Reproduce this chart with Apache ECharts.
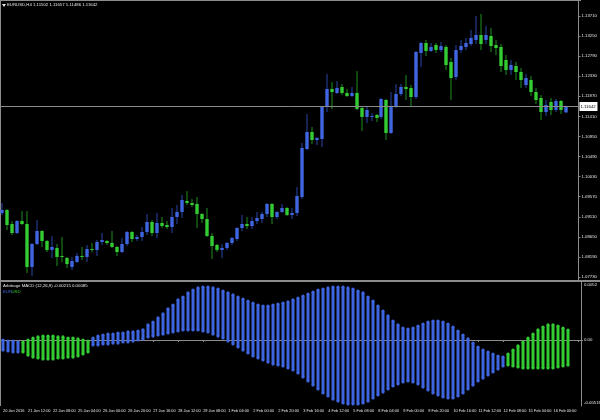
<!DOCTYPE html>
<html><head><meta charset="utf-8">
<script src="https://cdn.jsdelivr.net/npm/echarts@6/dist/echarts.min.js"></script>
<style>html,body{margin:0;padding:0;background:#000;}#c{width:600px;height:420px;}</style>
</head><body><div id="c"></div>
<script>
const tickLabels = ['20 Jan 2016','21 Jan 12:00','22 Jan 08:00','25 Jan 04:00','26 Jan 00:00','26 Jan 20:00','27 Jan 16:00','28 Jan 12:00','29 Jan 08:00','1 Feb 04:00','2 Feb 00:00','2 Feb 20:00','3 Feb 16:00','4 Feb 12:00','5 Feb 08:00','8 Feb 04:00','9 Feb 00:00','9 Feb 20:00','10 Feb 16:00','11 Feb 12:00','12 Feb 08:00','15 Feb 04:00','16 Feb 00:00'];
const priceTicks = [1.13710,1.13250,1.12790,1.12330,1.11870,1.11410,1.10950,1.10490,1.10030,1.09570,1.09110,1.08650,1.08190,1.07730];
const macdLevels = [0];
const macdRange = ['0.0052', '-0.00518'];

const open = [1.09197,1.09266,1.08944,1.08738,1.09013,1.08944,1.07960,1.08486,1.08784,1.08555,
1.08349,1.08395,1.08212,1.08166,1.07960,1.08074,1.08212,1.08189,1.08372,1.08349,
1.08532,1.08555,1.08509,1.08418,1.08303,1.08486,1.08761,1.08601,1.08647,1.08761,
1.08990,1.08738,1.08967,1.08921,1.08876,1.09105,1.09220,1.09472,1.09426,1.09403,
1.09174,1.09059,1.08670,1.08463,1.08349,1.08395,1.08509,1.08601,1.08853,1.08944,
1.08898,1.09013,1.09059,1.09174,1.09403,1.09105,1.09220,1.09311,1.09151,1.09197,
1.09563,1.10663,1.11053,1.10869,1.10892,1.11626,1.12038,1.11946,1.12084,1.11946,
1.11877,1.11946,1.11603,1.11397,1.11397,1.11443,1.11397,1.11786,1.11030,1.11649,
1.11923,1.12084,1.12061,1.11854,1.12862,1.13092,1.12908,1.13046,1.12931,1.13000,
1.12656,1.12313,1.12931,1.13000,1.13069,1.13161,1.13275,1.13161,1.13252,1.13046,
1.13000,1.12702,1.12473,1.12565,1.12427,1.12129,1.12244,1.11969,1.11831,1.11511,
1.11740,1.11557,1.11763,1.11502];
const close = [1.09266,1.08921,1.08738,1.09013,1.08944,1.07960,1.08486,1.08784,1.08555,1.08349,
1.08418,1.08189,1.08189,1.08028,1.08097,1.08212,1.08189,1.08372,1.08349,1.08532,
1.08578,1.08509,1.08418,1.08303,1.08486,1.08761,1.08601,1.08647,1.08761,1.08990,
1.08738,1.08967,1.08898,1.08876,1.09105,1.09220,1.09495,1.09426,1.09380,1.09174,
1.09059,1.08670,1.08441,1.08349,1.08395,1.08509,1.08624,1.08853,1.08944,1.08898,
1.09013,1.09082,1.09174,1.09403,1.09105,1.09220,1.09311,1.09151,1.09197,1.09586,
1.10686,1.11053,1.10869,1.10915,1.11626,1.12038,1.11969,1.12061,1.11946,1.11877,
1.11946,1.11580,1.11397,1.11557,1.11420,1.11374,1.11809,1.11030,1.11649,1.11923,
1.12084,1.12038,1.11854,1.12885,1.13092,1.12908,1.13000,1.12931,1.13023,1.12588,
1.12290,1.12931,1.13023,1.13092,1.13206,1.13275,1.13069,1.13275,1.13023,1.12977,
1.12565,1.12473,1.12588,1.12427,1.12244,1.12290,1.11969,1.11786,1.11511,1.11671,
1.11557,1.11763,1.11557,1.11642];
const low = [1.09151,1.08807,1.08692,1.08715,1.08921,1.07822,1.07753,1.08463,1.08418,1.08303,
1.08166,1.07983,1.08074,1.07937,1.07891,1.08051,1.08120,1.08074,1.08303,1.08212,
1.08463,1.08463,1.08395,1.08212,1.08280,1.08441,1.08532,1.08555,1.08555,1.08692,
1.08670,1.08624,1.08853,1.08830,1.08738,1.08944,1.09082,1.09380,1.09334,1.08853,
1.08967,1.08647,1.08143,1.08303,1.08166,1.08349,1.08463,1.08555,1.08784,1.08830,
1.08830,1.08944,1.08967,1.09105,1.08944,1.09059,1.09197,1.09128,1.09059,1.09128,
1.09518,1.10640,1.10778,1.10755,1.10709,1.11511,1.11580,1.11923,1.11900,1.11854,
1.11854,1.11557,1.11076,1.11259,1.11305,1.11282,1.11351,1.10869,1.11007,1.11603,
1.11877,1.11786,1.11626,1.11809,1.12542,1.12794,1.12885,1.12862,1.12885,1.12473,
1.11786,1.12244,1.12862,1.12931,1.13023,1.13069,1.12931,1.13069,1.12885,1.12817,
1.12427,1.12359,1.12359,1.12244,1.12061,1.12061,1.11877,1.11694,1.11328,1.11420,
1.11443,1.11511,1.11466,1.11486];
const high = [1.09426,1.09290,1.09013,1.09036,1.09243,1.09243,1.08510,1.09036,1.08807,1.08578,
1.08670,1.08486,1.08647,1.08189,1.08189,1.08280,1.08418,1.08463,1.08509,1.08578,
1.08738,1.08578,1.08784,1.08441,1.08624,1.08784,1.08784,1.08692,1.08876,1.09174,
1.09036,1.09197,1.09105,1.09013,1.09311,1.09380,1.09609,1.09701,1.09518,1.09563,
1.09197,1.09311,1.08738,1.08486,1.08486,1.08532,1.08647,1.08876,1.09151,1.09105,
1.09105,1.09220,1.09220,1.09426,1.09426,1.09243,1.09403,1.09334,1.09311,1.09793,
1.10801,1.11466,1.11167,1.10938,1.11649,1.12382,1.12198,1.12221,1.12152,1.12038,
1.12084,1.12450,1.11626,1.11626,1.11488,1.11466,1.11831,1.11809,1.11969,1.12152,
1.12152,1.12359,1.12129,1.12908,1.13115,1.13161,1.13092,1.13092,1.13115,1.13046,
1.12748,1.13046,1.13161,1.13206,1.13390,1.13710,1.13756,1.13481,1.13435,1.13161,
1.13069,1.12817,1.12702,1.12656,1.12519,1.12382,1.12336,1.12061,1.11900,1.11786,
1.11831,1.11809,1.11786,1.11657];

const eur = [0.00000,-0.00009,-0.00009,-0.00017,
-0.00103,-0.00129,-0.00146,-0.00154,-0.00163,-0.00163,-0.00163,-0.00154,-0.00154,-0.00146,-0.00146,-0.00137,-0.00120,-0.00103,
0.00017,0.00034,0.00043,0.00051,0.00051,0.00060,0.00060,0.00069,0.00069,0.00077,0.00086,
0.00129,0.00154,0.00189,0.00223,0.00266,0.00300,0.00343,0.00368,0.00403,0.00428,0.00446,0.00454,
0.00454,0.00446,0.00437,0.00420,0.00403,0.00386,0.00368,0.00351,0.00334,0.00317,
0.00300,0.00291,0.00291,0.00300,0.00308,0.00317,0.00326,0.00343,0.00360,0.00377,
0.00394,0.00411,0.00428,0.00437,0.00446,0.00454,0.00454,0.00454,0.00446,0.00437,
0.00420,0.00403,0.00368,0.00334,0.00291,0.00248,0.00206,0.00163,0.00129,0.00103,
0.00094,0.00103,0.00120,0.00137,0.00154,0.00163,0.00163,0.00154,
0.00137,0.00111,0.00077,0.00043,0.00009,-0.00026,-0.00060,-0.00086,-0.00103,-0.00120,-0.00137,-0.00146,
-0.00214,-0.00223,-0.00231,-0.00240,-0.00240,-0.00240,-0.00240,-0.00240,-0.00240,-0.00240,-0.00231,-0.00223,-0.00215];
const usd = [-0.00086,-0.00094,-0.00103,-0.00103,
-0.00017,0.00000,0.00017,0.00026,0.00034,0.00034,0.00034,0.00026,0.00026,0.00017,0.00017,0.00009,0.00000,-0.00009,
-0.00043,-0.00043,-0.00034,-0.00034,-0.00026,-0.00026,-0.00017,-0.00017,-0.00009,0.00000,0.00009,
0.00026,0.00034,0.00043,0.00051,0.00060,0.00069,0.00077,0.00086,0.00086,0.00086,0.00086,0.00077,
0.00069,0.00051,0.00034,0.00017,-0.00009,-0.00034,-0.00060,-0.00086,-0.00111,-0.00137,
-0.00154,-0.00171,-0.00189,-0.00206,-0.00214,-0.00223,-0.00240,-0.00257,-0.00283,-0.00317,
-0.00351,-0.00386,-0.00420,-0.00454,-0.00480,-0.00506,-0.00523,-0.00540,-0.00548,-0.00548,
-0.00548,-0.00540,-0.00523,-0.00497,-0.00471,-0.00446,-0.00420,-0.00394,-0.00377,-0.00360,
-0.00351,-0.00360,-0.00377,-0.00403,-0.00428,-0.00454,-0.00471,-0.00488,
-0.00497,-0.00497,-0.00480,-0.00454,-0.00420,-0.00386,-0.00351,-0.00326,-0.00300,-0.00274,-0.00249,-0.00223,
-0.00120,-0.00086,-0.00051,-0.00017,0.00017,0.00051,0.00086,0.00111,0.00129,0.00129,0.00120,0.00103,0.00085];

const NSLOTS = 116;
const cats = Array.from({length: NSLOTS}, (_, i) => i);
const FONT = 'Liberation Sans';
const FS = 4.3;
const FSX = 3.9;
const TXT = '#e6e6e6';
const AXC = '#8c8c8c';
const BLUE = '#3f66e0', GREEN = '#33cc33';
const WICK_UP = '#2846a8', WICK_DN = '#1f8f1f';

const candleData = open.map((o, i) => [i, o, close[i], low[i], high[i]]);
const macdData = eur.map((e, i) => [i, e, usd[i]]);
const last = close[close.length - 1];

const chart = echarts.init(document.getElementById('c'), null, {renderer: 'canvas'});
chart.setOption({
  backgroundColor: '#000',
  animation: false,
  grid: [
    {left: 0, right: 19, top: 1, height: 280},
    {left: 0, right: 19, top: 282, height: 124}
  ],
  xAxis: [
    {type: 'category', gridIndex: 0, data: cats, boundaryGap: true, show: false},
    {type: 'category', gridIndex: 1, data: cats, boundaryGap: true,
     axisLine: {show: true, lineStyle: {color: AXC, width: 1}},
     axisTick: {show: true, interval: 4, alignWithLabel: true, length: 2, lineStyle: {color: AXC}},
     axisLabel: {show: true, interval: 4, showMinLabel: true, hideOverlap: false, align: 'left', margin: 3,
       color: TXT, fontFamily: FONT, fontSize: FSX,
       formatter: (v, idx) => tickLabels[idx / 5] || ''}}
  ],
  yAxis: [
    {type: 'value', gridIndex: 0, position: 'right', min: 1.07638, max: 1.14054,
     splitLine: {show: false},
     axisLine: {show: true, lineStyle: {color: AXC}},
     axisTick: {show: true, length: 2, customValues: priceTicks, lineStyle: {color: AXC}},
     axisLabel: {show: true, margin: 3, color: TXT, fontFamily: FONT, fontSize: FS, customValues: priceTicks,
       formatter: v => v.toFixed(5)}},
    {type: 'value', gridIndex: 1, position: 'right', min: -0.005656, max: 0.00497,
     splitLine: {show: false},
     axisLine: {show: true, lineStyle: {color: AXC}},
     axisTick: {show: true, length: 2, customValues: macdLevels, lineStyle: {color: AXC}},
     axisLabel: {show: true, margin: 3, color: TXT, fontFamily: FONT, fontSize: FS, customValues: macdLevels,
       formatter: v => v.toFixed(2)}}
  ],
  series: [
    {
      type: 'custom', xAxisIndex: 0, yAxisIndex: 0, data: candleData,
      encode: {x: 0, y: [1, 2, 3, 4]},
      renderItem: (params, api) => {
        const i = api.value(0), o = api.value(1), c = api.value(2), l = api.value(3), h = api.value(4);
        const po = api.coord([i, o]), pc = api.coord([i, c]), pl = api.coord([i, l]), ph = api.coord([i, h]);
        const up = c >= o;
        const x = Math.round(po[0]);
        const bw = 3.4;
        const top = Math.min(po[1], pc[1]);
        const hgt = Math.max(1, Math.abs(po[1] - pc[1]));
        return {type: 'group', children: [
          {type: 'rect', shape: {x: x - 0.5, y: ph[1], width: 1, height: pl[1] - ph[1]}, style: {fill: up ? WICK_UP : WICK_DN}},
          {type: 'rect', shape: {x: x - bw / 2, y: top, width: bw, height: hgt}, style: {fill: up ? BLUE : GREEN}}
        ]};
      }
    },
    {
      // bid line at the last close
      type: 'custom', xAxisIndex: 0, yAxisIndex: 0, data: [[close.length - 1, last]],
      encode: {x: 0, y: 1}, clip: false, z: 5, silent: true,
      renderItem: (params, api) => {
        const p = api.coord([api.value(0), api.value(1)]);
        const cs = params.coordSys;
        const y = Math.round(p[1]) + 0.5;
        return {type: 'group', children: [
          {type: 'line', shape: {x1: cs.x, y1: y, x2: cs.x + cs.width, y2: y}, style: {stroke: '#8a8a8a', lineWidth: 1}},
          {type: 'rect', shape: {x: cs.x + cs.width + 1, y: y - 4.5, width: 18, height: 9}, style: {fill: '#fff'}},
          {type: 'text', x: cs.x + cs.width + 2, y: y, style: {text: api.value(1).toFixed(5), fill: '#000',
            font: FS + 'px ' + FONT, verticalAlign: 'middle'}}
        ]};
      }
    },
    {
      type: 'custom', xAxisIndex: 1, yAxisIndex: 1, data: macdData,
      encode: {x: 0, y: [1, 2]},
      renderItem: (params, api) => {
        const i = api.value(0), e = api.value(1), u = api.value(2);
        const pe = api.coord([i, e]), pu = api.coord([i, u]);
        const col = e >= u ? BLUE : GREEN;
        const x = Math.round(pe[0]);
        const bw = 3;
        const top = Math.min(pe[1], pu[1]), bot = Math.max(pe[1], pu[1]);
        return {type: 'group', children: [
          {type: 'rect', shape: {x: x - bw / 2, y: top, width: bw, height: Math.max(1, bot - top)}, style: {fill: col}},
          {type: 'circle', shape: {cx: x, cy: top, r: 1.6}, style: {fill: col}},
          {type: 'circle', shape: {cx: x, cy: bot, r: 1.6}, style: {fill: col}}
        ]};
      }
    },
    {
      // zero level (dotted)
      type: 'custom', xAxisIndex: 1, yAxisIndex: 1, data: macdLevels.map(v => [0, v]),
      encode: {x: 0, y: 1}, z: 1, silent: true,
      renderItem: (params, api) => {
        const p = api.coord([api.value(0), api.value(1)]);
        const cs = params.coordSys;
        const y = Math.round(p[1]) + 0.5;
        return {type: 'line', shape: {x1: cs.x, y1: y, x2: cs.x + cs.width, y2: y},
          style: {stroke: '#8a8a8a', lineWidth: 1, lineDash: [1, 2]}};
      }
    }
  ],
  graphic: [
    {type: 'rect', shape: {x: 0, y: 0, width: 581, height: 1}, style: {fill: AXC}},
    {type: 'rect', shape: {x: 0, y: 0, width: 1, height: 406}, style: {fill: AXC}},
    {type: 'rect', shape: {x: 0, y: 280, width: 600, height: 2}, style: {fill: AXC}},
    {type: 'polygon', shape: {points: [[2, 4], [6, 4], [4, 7]]}, style: {fill: '#e6e6e6'}},
    {type: 'text', x: 7, y: 3, style: {text: 'EURUSD,H4 1.11502 1.11657 1.11486 1.11642', fill: TXT, font: FS + 'px ' + FONT}},
    {type: 'text', x: 3, y: 284, style: {text: 'Arbitrage MACD (12,26,9) -0.00215 0.00085', fill: TXT, font: FS + 'px ' + FONT}},
    {type: 'text', x: 3, y: 290, style: {text: 'EUR', fill: BLUE, font: FS + 'px ' + FONT}},
    {type: 'text', x: 11.5, y: 290, style: {text: 'USD', fill: GREEN, font: FS + 'px ' + FONT}},
    {type: 'text', x: 584, y: 285, style: {text: macdRange[0], fill: TXT, font: FS + 'px ' + FONT, verticalAlign: 'middle'}},
    {type: 'text', x: 584, y: 403, style: {text: macdRange[1], fill: TXT, font: FS + 'px ' + FONT, verticalAlign: 'middle'}}
  ]
});
</script>
</body></html>
